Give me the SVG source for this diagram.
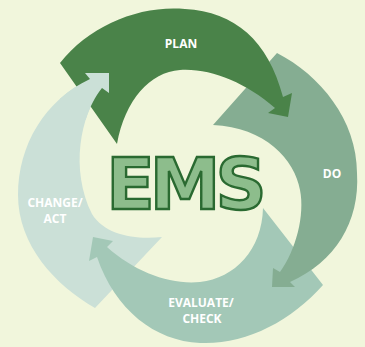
<svg xmlns="http://www.w3.org/2000/svg" xmlns:xlink="http://www.w3.org/1999/xlink" width="365" height="347" viewBox="0 0 365 347">
  <style>
    .label { font-family: "Open Sans", "Liberation Sans", sans-serif; font-weight: bold; font-size: 12px; fill: #ffffff; text-anchor: middle; }
    .title { font-family: "DejaVu Sans", "Liberation Sans", sans-serif; font-weight: bold; font-size: 71px; fill: #8dbd8c; stroke: #2a6a31; stroke-width: 2.4; letter-spacing: -5px; text-anchor: middle; }
  </style>
  <defs>
    <!-- each stage is a swooping arrow: straight tail cut, outer arc, barbed head, inner arc -->
    <path id="shape-change" d="M162,237 L95,308 C55,285 18,245 18,195 C18,145 45,100 90,79 L85,73 L109,73 L109,93 L102,88 C80,115 70,170 92,214 C105,235 135,240 162,237 Z"/>
    <clipPath id="change-head-clip">
      <rect x="60" y="60" width="70" height="60"/>
    </clipPath>
  </defs>

  <rect width="365" height="347" fill="#f1f6dc"/>

  <g id="connectors">
    <g id="arrow-change">
      <use xlink:href="#shape-change" fill="#cbe0d7"/>
    </g>
    <g id="arrow-evaluate">
      <path fill="#a3c8b7" d="M263,208 L323,285 C290,322 245,345 200,343 C155,341 115,310 97,257 L89,261 L93,237 L113,241 L107,247 C135,272 170,285 200,282 C235,278 262,250 263,208 Z"/>
    </g>
    <g id="arrow-do">
      <path fill="#85ad92" d="M213,125 L277,53 C320,75 357,120 357,173 C360,222 335,262 290,282 L295,287 L272,287 L273,268 L280,272 C296,250 305,215 300,190 C295,160 265,127 213,125 Z"/>
    </g>
    <g id="arrow-plan">
      <path fill="#4a8349" d="M60,63 C90,25 140,5 185,9 C235,12 268,40 283,97 L292,93 L288,117 L268,113 L275,108 C245,82 210,68 180,70 C150,72 125,100 117,144 Z"/>
    </g>
    <!-- the act arrowhead sits over the plan tail, closing the cycle -->
    <g id="arrow-change-head">
      <use xlink:href="#shape-change" fill="#cbe0d7" clip-path="url(#change-head-clip)"/>
    </g>
  </g>

  <g id="node-plan">
    <text class="label" x="181" y="48">PLAN</text>
  </g>
  <g id="node-do">
    <text class="label" x="332" y="178">DO</text>
  </g>
  <g id="node-evaluate">
    <text class="label" x="201" y="307">EVALUATE/</text>
    <text class="label" x="202" y="323">CHECK</text>
  </g>
  <g id="node-change">
    <text class="label" x="55" y="207">CHANGE/</text>
    <text class="label" x="55" y="223">ACT</text>
  </g>
  <g id="node-ems">
    <text class="title" x="184" y="209">EMS</text>
  </g>
</svg>
